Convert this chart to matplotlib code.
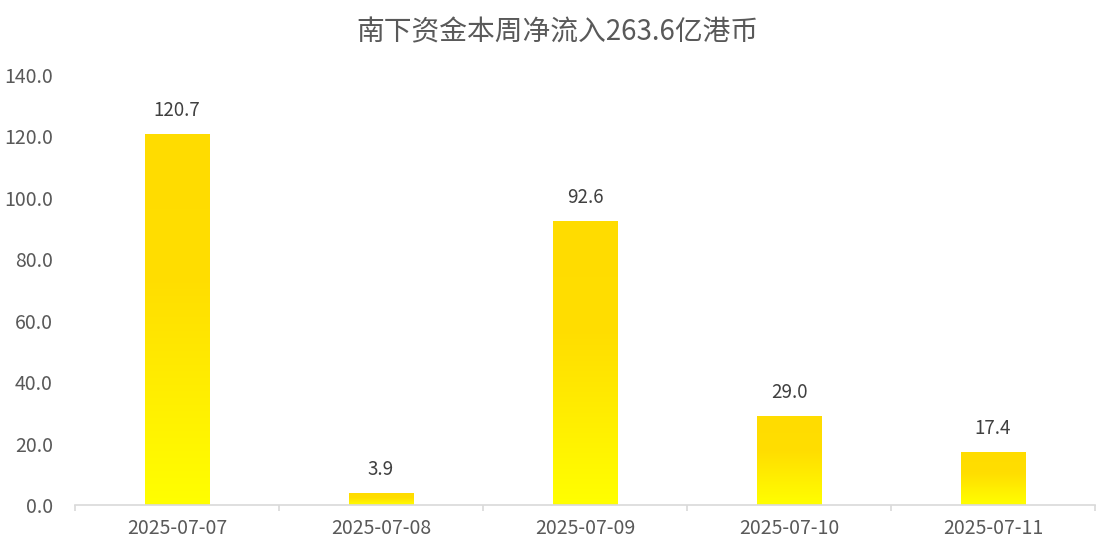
import numpy as np
import matplotlib.pyplot as plt
from matplotlib.colors import LinearSegmentedColormap

plt.rcParams["font.family"] = ["Noto Sans CJK SC", "DejaVu Sans"]

dates = ["2025-07-07", "2025-07-08", "2025-07-09", "2025-07-10", "2025-07-11"]
inflow = [120.7, 3.9, 92.6, 29.0, 17.4]
title = "南下资金本周净流入263.6亿港币"

TEXT = "#595959"
cmap = LinearSegmentedColormap.from_list(
    "gold", [(0, "#FFFF00"), (0.45, "#FFE600"), (0.6, "#FFDE00"), (1, "#FFDC00")]
)

fig = plt.figure(figsize=(11.14, 5.46), dpi=100)
ax = fig.add_axes([75 / 1114, 41 / 546, 1020 / 1114, 430 / 546])

x = np.arange(len(dates))
bars = ax.bar(x, inflow, width=0.315, color="none", edgecolor="none")
grad = np.linspace(0, 1, 256).reshape(-1, 1)
for b in bars:
    x0, y0 = b.get_x(), b.get_y()
    im = ax.imshow(grad, cmap=cmap, origin="lower", aspect="auto",
                   extent=[x0, x0 + b.get_width(), y0, y0 + b.get_height()],
                   zorder=2)
    im.set_clip_path(b)

for xi, v in zip(x, inflow):
    ax.text(xi, v + 4.2, f"{v:.1f}", ha="center", va="bottom",
            fontsize=13.5, color="#404040")

ax.set_xlim(-0.5, len(dates) - 0.5)
ax.set_ylim(0, 140)
ax.set_yticks(np.arange(0, 141, 20))
ax.set_yticklabels([f"{t:.1f}" for t in np.arange(0, 141, 20)])
ax.set_xticks(x)
ax.set_xticklabels(dates)
ax.set_xticks(np.arange(-0.5, len(dates)), minor=True)
ax.tick_params(axis="x", which="major", length=0, pad=9, labelsize=14,
               labelcolor=TEXT)
ax.tick_params(axis="x", which="minor", length=4, color="#D9D9D9", width=1.2)
ax.tick_params(axis="y", length=0, pad=16, labelsize=14, labelcolor=TEXT)

for s in ["top", "right", "left"]:
    ax.spines[s].set_visible(False)
ax.spines["bottom"].set_color("#D9D9D9")
ax.spines["bottom"].set_linewidth(1.2)

fig.suptitle(title, y=0.968, fontsize=20, color=TEXT)

fig.savefig("out.png", dpi=100)
